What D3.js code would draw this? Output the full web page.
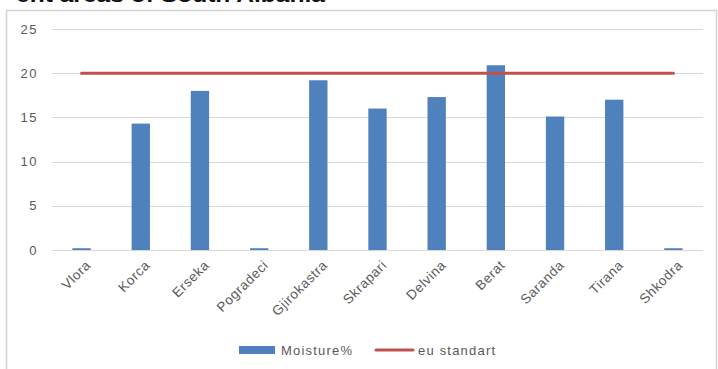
<!DOCTYPE html>
<html>
<head>
<meta charset="utf-8">
<script src="https://cdn.jsdelivr.net/npm/d3@7/dist/d3.min.js"></script>
<style>
  html, body { margin: 0; padding: 0; background: #fff; }
  svg { display: block; }
  text { font-family: "Liberation Sans", Arial, sans-serif; }
</style>
</head>
<body>
<svg id="chart" width="718" height="369"></svg>
<script>
// Moisture content per sampling location, with the EU limit drawn as a line
const cities = ["Vlora", "Korca", "Erseka", "Pogradeci", "Gjirokastra", "Skrapari",
                "Delvina", "Berat", "Saranda", "Tirana", "Shkodra"];
const moisture = [0.2, 14.3, 18.0, 0.2, 19.2, 16.0, 17.3, 20.9, 15.1, 17.0, 0.2];
const euStandard = [20, 20, 20, 20, 20, 20, 20, 20, 20, 20, 20];
const yTicks = [0, 5, 10, 15, 20, 25];
const seriesNames = ["Moisture%", "eu standart"];
const caption = "ent areas of South Albania";

const svg = d3.select("#chart");
const W = 718, H = 369;

const margin = { left: 52, right: 15, top: 29, bottom: 119 };
const x = d3.scaleBand().domain(cities).range([margin.left, W - margin.right])
  .paddingInner(0.69).paddingOuter(0.345);
const y = d3.scaleLinear().domain([0, 25]).range([H - margin.bottom, margin.top]);

const blue = "#4f81bd", red = "#c0504d", grey = "#595959";

// caption running off the top edge
svg.append("text")
  .attr("x", 16).attr("y", 2)
  .attr("font-family", "Liberation Serif, Times New Roman, serif")
  .attr("font-weight", "bold").attr("font-size", 20)
  .attr("textLength", 309).attr("lengthAdjust", "spacingAndGlyphs")
  .attr("fill", "#111")
  .text(caption);

// chart frame
svg.append("rect")
  .attr("x", 6.5).attr("y", 10.5).attr("width", 710).attr("height", 370)
  .attr("fill", "#fff").attr("stroke", "#d4d4d4").attr("stroke-width", 1.5);

// gridlines
svg.append("g")
  .selectAll("line").data(yTicks.filter(d => d > 0)).join("line")
  .attr("x1", margin.left).attr("x2", W - margin.right)
  .attr("y1", d => Math.round(y(d)) + 0.5).attr("y2", d => Math.round(y(d)) + 0.5)
  .attr("stroke", "#d9d9d9").attr("stroke-width", 1);

// y axis labels
const yAxis = d3.axisLeft(y).tickValues(yTicks).tickSize(0).tickPadding(0);
const gy = svg.append("g").attr("transform", `translate(${margin.left - 14},0)`).call(yAxis);
gy.select(".domain").remove();
gy.selectAll("text").attr("font-size", 13).attr("fill", grey)
  .attr("letter-spacing", "1.5px")
  .attr("font-family", "Liberation Sans, Arial, sans-serif");

// bars
svg.append("g")
  .selectAll("rect").data(cities).join("rect")
  .attr("x", d => x(d))
  .attr("width", x.bandwidth())
  .attr("y", (d, i) => y(moisture[i]))
  .attr("height", (d, i) => y(0) - y(moisture[i]))
  .attr("fill", blue);

// x axis baseline and labels
const xAxis = d3.axisBottom(x).tickSize(0).tickPadding(0);
const gx = svg.append("g").attr("transform", `translate(0,${y(0)})`).call(xAxis);
gx.select(".domain").attr("stroke", "#d9d9d9").attr("d", `M${margin.left},0.5H${W - margin.right}`);
gx.selectAll("text")
  .attr("font-size", 13.5).attr("fill", grey)
  .attr("letter-spacing", "0.6px")
  .attr("font-family", "Liberation Sans, Arial, sans-serif")
  .attr("text-anchor", "end")
  .attr("dy", "0")
  .attr("transform", "translate(10,16) rotate(-45)");

// EU standard line
const line = d3.line()
  .x(d => x(d) + x.bandwidth() / 2)
  .y((d, i) => y(euStandard[i]));
svg.append("path")
  .datum(cities)
  .attr("d", line)
  .attr("fill", "none").attr("stroke", red).attr("stroke-width", 3)
  .attr("stroke-linecap", "round");

// legend
const leg = svg.append("g").attr("font-size", 13).attr("letter-spacing", "1.2px");
leg.append("rect").attr("x", 239).attr("y", 346).attr("width", 36).attr("height", 8).attr("fill", blue);
leg.append("text").attr("x", 281).attr("y", 355).attr("fill", grey).text(seriesNames[0]);
leg.append("line").attr("x1", 376).attr("x2", 413).attr("y1", 350).attr("y2", 350)
  .attr("stroke", red).attr("stroke-width", 3).attr("stroke-linecap", "round");
leg.append("text").attr("x", 418).attr("y", 355).attr("fill", grey).text(seriesNames[1]);
</script>
</body>
</html>
